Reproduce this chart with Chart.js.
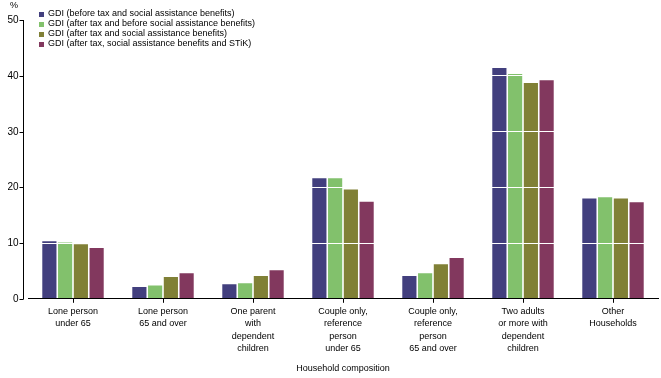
<!DOCTYPE html>
<html><head><meta charset="utf-8">
<script src="https://cdn.jsdelivr.net/npm/chart.js@4/dist/chart.umd.min.js"></script>
<style>html,body{margin:0;padding:0;background:#fff}#wrap{width:661px;height:378px;position:relative}</style>
</head><body><div id="wrap"><canvas id="c" width="661" height="378"></canvas></div>
<script>
const categories = [
  ["Lone person","under 65"],
  ["Lone person","65 and over"],
  ["One parent","with","dependent","children"],
  ["Couple only,","reference","person","under 65"],
  ["Couple only,","reference","person","65 and over"],
  ["Two adults","or more with","dependent","children"],
  ["Other","Households"]
];
const seriesNames = [
  "GDI (before tax and social assistance benefits)",
  "GDI (after tax and before social assistance benefits)",
  "GDI (after tax and social assistance benefits)",
  "GDI (after tax, social assistance benefits and STiK)"
];
const beforeTax = [10.3, 2.1, 2.6, 21.6, 4.1, 41.4, 18.0];
const afterTaxBeforeSA = [10.1, 2.4, 2.8, 21.6, 4.6, 40.3, 18.2];
const afterTaxSA = [9.8, 3.9, 4.1, 19.6, 6.2, 38.7, 18.0];
const afterTaxSAStik = [9.1, 4.6, 5.1, 17.4, 7.3, 39.2, 17.3];
const yTicks = [0, 10, 20, 30, 40, 50];
const colors = ["#423F7E", "#82C16C", "#808036", "#82385E"];

const FONT = "'Liberation Sans', Arial, sans-serif";

const overlay = {
  id: 'overlay',
  afterDraw(chart) {
    const ctx = chart.ctx;
    const ca = chart.chartArea;
    const y = chart.scales.y;
    ctx.save();
    const ax = Math.round(ca.left - 5) + 0.5;
    ctx.strokeStyle = '#000';
    ctx.lineWidth = 1;
    ctx.beginPath();
    ctx.moveTo(ax, y.getPixelForValue(50));
    ctx.lineTo(ax, y.getPixelForValue(0) + 0.5);
    ctx.stroke();
    ctx.fillStyle = '#000';
    ctx.font = '10px ' + FONT;
    ctx.textAlign = 'right';
    ctx.textBaseline = 'middle';
    yTicks.forEach(v => {
      const py = Math.round(y.getPixelForValue(v)) + 0.5;
      ctx.beginPath();
      ctx.moveTo(ax - 4, py);
      ctx.lineTo(ax, py);
      ctx.stroke();
      ctx.fillText(String(v), ax - 5, py);
    });
    ctx.textAlign = 'left';
    ctx.font = '9px ' + FONT;
    ctx.fillText('%', 10, 6);
    ctx.textBaseline = 'middle';
    seriesNames.forEach((n, i) => {
      const ly = 14 + i * 10;
      ctx.fillStyle = colors[i];
      ctx.fillRect(39, ly - 2, 5, 5);
      ctx.fillStyle = '#000';
      ctx.fillText(n, 48, ly);
    });
    ctx.restore();
  }
};

new Chart(document.getElementById('c'), {
  type: 'bar',
  data: {
    labels: categories,
    datasets: [
      { label: seriesNames[0], data: beforeTax, backgroundColor: colors[0] },
      { label: seriesNames[1], data: afterTaxBeforeSA, backgroundColor: colors[1] },
      { label: seriesNames[2], data: afterTaxSA, backgroundColor: colors[2] },
      { label: seriesNames[3], data: afterTaxSAStik, backgroundColor: colors[3] }
    ]
  },
  options: {
    responsive: false,
    animation: false,
    layout: { padding: { top: 20, right: 3, left: 0, bottom: 0 } },
    datasets: { bar: { categoryPercentage: 0.7, barPercentage: 0.9 } },
    plugins: { legend: { display: false }, tooltip: { enabled: false } },
    scales: {
      x: {
        z: 2,
        grid: { drawOnChartArea: false, color: '#000', tickLength: 4, offset: false },
        border: { color: '#000', z: 3 },
        ticks: { color: '#000', font: { size: 9, family: FONT, lineHeight: 1.4 }, padding: 2, maxRotation: 0, autoSkip: false },
        title: { display: true, text: 'Household composition', color: '#000', font: { size: 9, family: FONT }, padding: { top: 6, bottom: 4 } }
      },
      y: {
        min: 0, max: 50,
        afterFit(s) { s.width = 28; },
        ticks: { stepSize: 10, display: false },
        border: { display: false },
        grid: { z: 1, drawTicks: false, color: (c) => c.tick && c.tick.value === 0 ? 'rgba(0,0,0,0)' : '#fff' }
      }
    }
  },
  plugins: [overlay]
});
</script></body></html>
